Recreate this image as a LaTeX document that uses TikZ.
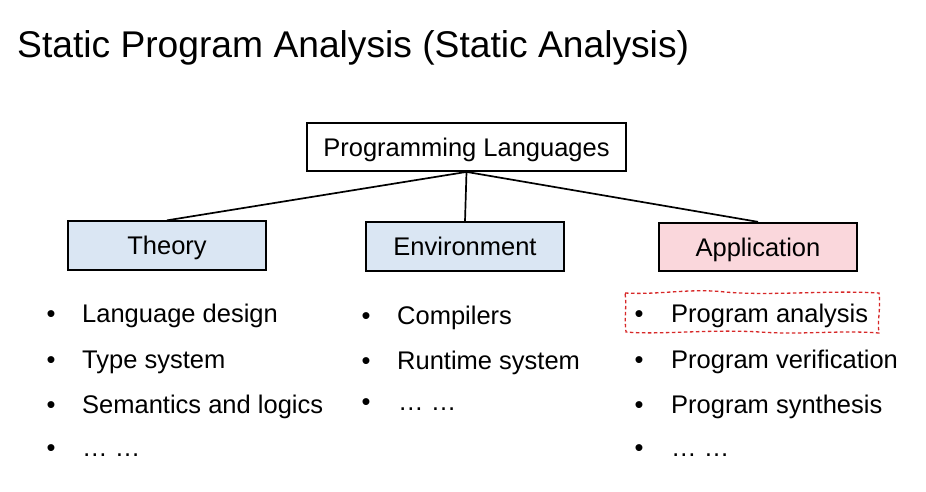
\documentclass[tikz,border=0pt]{standalone}
\usepackage{fontspec}
\setmainfont{Liberation Sans}
\begin{document}
\begin{tikzpicture}[x=1pt,y=-1pt,
  txt/.style={font=\fontsize{25.5}{30}\selectfont, inner sep=0pt},
  boxnode/.style={draw=black, line width=1.8pt, inner sep=0pt,
    minimum width=198pt, minimum height=48.5pt,
    font=\fontsize{25.5}{30}\selectfont, text height=18pt, text depth=0pt},
  link/.style={draw=black, line width=1.7pt},
  item/.style={txt, anchor=base west},
  dot/.style={txt, anchor=base},
  mark box/.style={draw={rgb,255:red,215;green,40;blue,40}, line width=1.3pt, dash pattern=on 3.5pt off 2.5pt}
]
\useasboundingbox (0,0) rectangle (926,491);

% title
\node[anchor=base west, inner sep=0pt, font=\fontsize{37.2}{44}\selectfont]
  (title) at (17,57) {Static Program Analysis (Static Analysis)};

% hierarchy
\node[boxnode, minimum width=319pt, minimum height=48pt] (pl) at (466.5,147) {Programming Languages};
\node[boxnode, fill={rgb,255:red,218;green,230;blue,243}] (theory) at (167,245.5) {Theory};
\node[boxnode, fill={rgb,255:red,218;green,230;blue,243}] (env) at (465,246.5) {Environment};
\node[boxnode, fill={rgb,255:red,250;green,215;blue,220}] (app) at (758,247) {Application};

\draw[link] (pl.south) -- (theory.north);
\draw[link] (pl.south) -- (env.north);
\draw[link] (pl.south) -- (app.north);

% theory items
\node[dot] (tb1) at (51,322) {•};
\node[item] (t1) at (82,322) {Language design};
\node[dot] (tb2) at (51,368) {•};
\node[item] (t2) at (82,368) {Type system};
\node[dot] (tb3) at (51,413) {•};
\node[item] (t3) at (82,413) {Semantics and logics};
\node[dot] (tb4) at (51,456) {•};
\node[item] (t4) at (82,456) {… …};

% environment items
\node[dot] (eb1) at (366,324) {•};
\node[item] (e1) at (397,324) {Compilers};
\node[dot] (eb2) at (366,369) {•};
\node[item] (e2) at (397,369) {Runtime system};
\node[dot] (eb3) at (366,410) {•};
\node[item] (e3) at (398,410) {… …};

% application items
\node[dot] (ab1) at (639,322) {•};
\node[item] (a1) at (671,322) {Program analysis};
\node[dot] (ab2) at (639,368) {•};
\node[item] (a2) at (671,368) {Program verification};
\node[dot] (ab3) at (639,413) {•};
\node[item] (a3) at (671,413) {Program synthesis};
\node[dot] (ab4) at (639,456) {•};
\node[item] (a4) at (671,456) {… …};

% hand-drawn highlight around the first application item
\draw[mark box]
  (625,293) .. controls (660,295) and (690,288) .. (725,292)
  .. controls (770,296) and (830,290) .. (879,293)
  .. controls (881,310) and (877,320) .. (879,333)
  .. controls (840,330) and (800,335) .. (760,332)
  .. controls (710,329) and (660,335) .. (626,332)
  .. controls (624,318) and (627,305) .. cycle;
\end{tikzpicture}
\end{document}
